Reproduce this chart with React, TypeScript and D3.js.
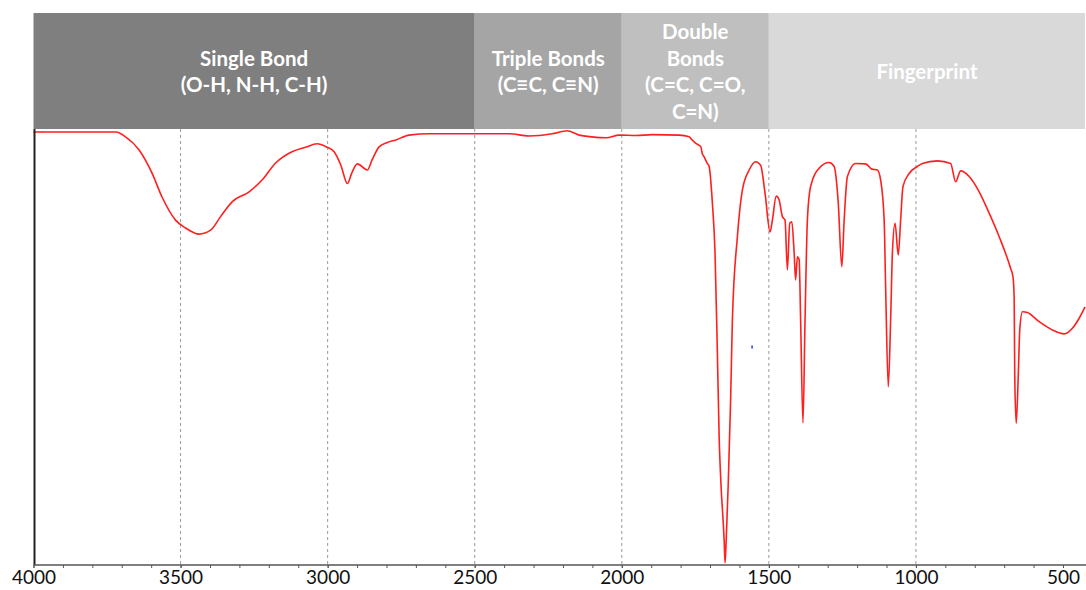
import { useEffect, useRef } from "react";
import * as d3 from "d3";

const width = 1086, height = 590;
const bandTop = 13, plotTop = 129, plotBottom = 565;

// spectrum (wavenumber cm-1, transmittance %)
const wavenumbers = [
  4000, 3720, 3687, 3641, 3597, 3563, 3517, 3483, 3437, 3398, 3364, 3325, 3267, 3223, 3177,
  3121, 3075, 3036, 3002, 2978, 2955, 2933, 2918, 2899, 2865, 2849, 2825, 2797, 2768, 2723,
  2655, 2509, 2383, 2315, 2237, 2186, 2145, 2101, 2053, 2009, 1951, 1897, 1805, 1771, 1761,
  1748, 1731, 1727, 1720, 1710, 1703, 1692, 1683, 1675, 1669, 1663, 1652, 1649, 1645, 1638,
  1630, 1624, 1607, 1590, 1567, 1545, 1528, 1513, 1496, 1488, 1475, 1465, 1454, 1445,
  1437, 1429, 1422, 1414, 1409, 1403, 1397, 1392, 1384, 1377, 1369, 1358, 1329, 1295, 1278,
  1264, 1252, 1244, 1233, 1205, 1171, 1150, 1131, 1120, 1108, 1103, 1094, 1086, 1080, 1071,
  1060, 1052, 1044, 1023, 995, 978, 927, 882, 865, 848, 819, 785, 751, 717, 678,
  670, 666, 664, 659, 652, 647, 638, 621, 581, 536, 496, 468, 445, 425,
];
const transmittance = [
  99.3, 99.3, 98.2, 95.2, 89.9, 84.4, 79.1, 77.3, 75.9, 76.8, 79.9, 83.3, 85.6, 88.3, 92.2,
  94.8, 95.8, 96.6, 95.8, 94.8, 91.7, 87.5, 89.9, 92.0, 90.6, 92.9, 95.9, 96.9, 97.5, 98.6,
  98.9, 98.9, 98.9, 98.4, 98.9, 99.6, 98.6, 98.2, 98.0, 98.6, 98.5, 98.7, 98.6, 98.2, 97.5,
  96.7, 95.9, 94.5, 93.6, 92.2, 91.4, 83.0, 71.6, 48.6, 29.4, 18.8, 5.7, 0.5, 5.7, 18.8,
  37.8, 56.2, 75.3, 86.0, 90.6, 92.5, 91.7, 85.3, 76.4, 79.1, 84.6, 83.7, 79.9, 79.1,
  67.7, 78.4, 78.7, 71.6, 65.4, 70.7, 70.0, 56.2, 32.6, 56.2, 79.1, 86.8, 91.0, 92.3, 91.4,
  83.0, 68.4, 79.1, 89.1, 92.1, 92.0, 90.8, 90.6, 88.3, 79.1, 63.8, 40.9, 56.2, 71.6, 78.4,
  71.1, 79.1, 86.8, 89.8, 91.4, 92.1, 92.7, 92.1, 87.9, 90.4, 89.1, 85.6, 80.7, 75.3, 68.0,
  66.1, 61.2, 43.2, 32.5, 43.6, 53.9, 58.1, 57.9, 55.8, 53.9, 53.0, 54.3, 56.6, 59.2,
];

// stray blue marker in the plot
const markerWavenumber = [1557];
const markerValue = [50];

const bandStarts = [4000, 2500, 2000, 1500];
const bandEnds = [2500, 2000, 1500, 425];
const bandColors = ["#7f7f7f", "#a5a5a5", "#bfbfbf", "#d9d9d9"];
const bandLabels = [
  ["Single Bond", "(O-H, N-H, C-H)"],
  ["Triple Bonds", "(C≡C, C≡N)"],
  ["Double", "Bonds", "(C=C, C=O,", "C=N)"],
  ["Fingerprint"],
];

const gridValues = [3500, 3000, 2500, 2000, 1500, 1000];
const tickLabels = [4000, 3500, 3000, 2500, 2000, 1500, 1000, 500];
const minorTicks = d3.range(4000, 499, -100);

const App = () => {
  const ref = useRef<HTMLDivElement>(null);

  useEffect(() => {
    const svg = d3
      .select(ref.current)
      .append("svg")
      .attr("width", width)
      .attr("height", height)
      .style("position", "absolute")
      .style("left", 0)
      .style("top", 0)
      .style("background", "#fff");

    const x = d3.scaleLinear().domain([4000, 500]).range([33.5, 1063]);
    const y = d3.scaleLinear().domain([0, 100]).range([plotBottom, plotTop]);
    const xr = (w: number) => Math.min(width, x(w));

    // header bands
    const bands = svg.append("g");
    bandStarts.forEach((s, i) => {
      const x0 = x(s), x1 = xr(bandEnds[i]);
      bands.append("rect")
        .attr("x", x0).attr("y", bandTop)
        .attr("width", x1 - x0).attr("height", plotTop - bandTop)
        .attr("fill", bandColors[i]);
      const lines = bandLabels[i];
      const cx = (x0 + x1) / 2;
      lines.forEach((t, j) => {
        bands.append("text")
          .attr("x", cx)
          .attr("y", 79 + (j - (lines.length - 1) / 2) * 26.5)
          .attr("text-anchor", "middle")
          .attr("fill", "#fff")
          .style("font-family", "Lato, 'Open Sans', sans-serif")
          .style("font-weight", 700)
          .style("font-size", "20.5px")
          .text(t);
      });
    });

    // dashed grid
    svg.append("g")
      .selectAll("line")
      .data(gridValues)
      .join("line")
      .attr("x1", d => x(d)).attr("x2", d => x(d))
      .attr("y1", plotTop).attr("y2", plotBottom)
      .attr("stroke", "#9a9a9a")
      .attr("stroke-width", 1)
      .attr("stroke-dasharray", "3,3");

    // spectrum
    const pts = wavenumbers.map((w, i) => [w, transmittance[i]] as [number, number]);
    const line = d3.line<[number, number]>()
      .x(d => x(d[0]))
      .y(d => y(d[1]))
      .curve(d3.curveMonotoneX);
    svg.append("path")
      .datum(pts)
      .attr("d", line)
      .attr("fill", "none")
      .attr("stroke", "#ff1f1f")
      .attr("stroke-width", 1.6)
      .attr("stroke-linejoin", "round");

    svg.append("g")
      .selectAll("rect")
      .data(markerWavenumber)
      .join("rect")
      .attr("x", d => x(d) - 0.75)
      .attr("y", (_d, i) => y(markerValue[i]) - 1.5)
      .attr("width", 1.5).attr("height", 3)
      .attr("fill", "#1f3fff");

    // axes
    svg.append("line")
      .attr("x1", x(4000) + 1).attr("x2", x(4000) + 1)
      .attr("y1", plotTop).attr("y2", plotBottom)
      .attr("stroke", "#222").attr("stroke-width", 2);

    const minor = svg.append("g")
      .attr("transform", `translate(0,${plotBottom})`)
      .call(d3.axisBottom(x).tickValues(minorTicks).tickSize(3).tickFormat(() => ""));
    minor.select(".domain").remove();
    minor.selectAll("line").attr("stroke", "#555");

    const major = svg.append("g")
      .attr("transform", `translate(0,${plotBottom})`)
      .call(d3.axisBottom(x).tickValues(tickLabels).tickSize(3).tickPadding(3).tickFormat(d3.format("d")));
    major.select(".domain").remove();
    major.selectAll("line").attr("stroke", "#555");
    major.selectAll("text")
      .attr("fill", "#111")
      .style("font-family", "Lato, 'Open Sans', sans-serif")
      .style("font-size", "19px");

    svg.append("line")
      .attr("x1", x(4000)).attr("x2", width)
      .attr("y1", plotBottom).attr("y2", plotBottom)
      .attr("stroke", "#555").attr("stroke-width", 1.6);

    return () => {
      d3.select(ref.current).select("svg").remove();
    };
  }, []);

  return <div ref={ref}></div>;
};

export default App;
